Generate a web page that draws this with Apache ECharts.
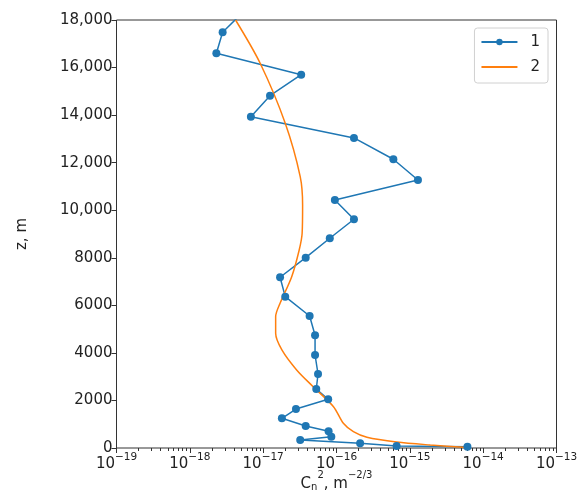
<!DOCTYPE html>
<html>
<head>
<meta charset="utf-8">
<script src="https://cdn.jsdelivr.net/npm/echarts@6/dist/echarts.min.js"></script>
<style>
  html, body { margin: 0; padding: 0; background: #fff; }
  #chart { width: 582px; height: 494px; }
</style>
</head>
<body>
<div id="chart"></div>
<script>
// series 1: measured profile (altitude, m / Cn2)
const z1 = [55, 84, 198, 336, 475, 702, 925, 1249, 1640, 2048, 2481, 3112, 3911, 4740, 5552,
  6364, 7180, 8004, 8820, 9619, 10431, 11272, 12143, 13039, 13935, 14818, 15701, 16601, 17484, 18400];
const c1 = [6.1e-15, 6.6e-16, 2.1e-16, 3.2e-17, 8.5e-17, 7.8e-17, 3.8e-17, 1.8e-17, 2.8e-17, 7.7e-17,
  5.3e-17, 5.6e-17, 5.1e-17, 5.1e-17, 4.3e-17, 2.0e-17, 1.7e-17, 3.8e-17, 8.1e-17, 1.73e-16,
  9.5e-17, 1.29e-15, 5.96e-16, 1.73e-16, 6.8e-18, 1.24e-17, 3.3e-17, 2.3e-18, 2.8e-18, 5.6e-18];
// series 2: model profile
const z2 = [0, 29, 126, 252, 450, 686, 1039, 1737, 2578, 3281, 4122, 4822, 5523, 6086, 7205,
  8328, 9030, 10220, 11411, 13657, 16180, 18000];
const c2 = [6.2e-15, 5.4e-15, 1.9e-15, 6.6e-16, 2.6e-16, 1.7e-16, 1.24e-16, 9.1e-17, 4.8e-17, 2.86e-17,
  1.8e-17, 1.48e-17, 1.48e-17, 1.7e-17, 2.45e-17, 3.1e-17, 3.4e-17, 3.45e-17, 3.2e-17, 2.0e-17, 9.1e-18, 4.2e-18];
const seriesNames = ['1', '2'];
// minor ticks 2..9 x 10^k, in log10 units
const minorTicks = [];
for (let k = -19; k < -13; k++) {
  for (let m = 2; m <= 9; m++) minorTicks.push(k + Math.log10(m));
}

const font = 'DejaVu Sans';
const textColor = '#222';

const chart = echarts.init(document.getElementById('chart'));
chart.setOption({
  animation: false,
  grid: {
    left: 116.5, right: 25.5, top: 20, bottom: 46,
    outerBoundsMode: 'none',
    containLabel: false,
    show: true, borderColor: '#333', borderWidth: 1, backgroundColor: 'transparent'
  },
  legend: {
    orient: 'vertical',
    right: 34, top: 28,
    data: [{ name: seriesNames[0] }, { name: seriesNames[1], itemStyle: { opacity: 0 } }],
    itemWidth: 36, itemHeight: 8, itemGap: 7,
    padding: [5, 8, 7, 6],
    borderColor: '#d0d0d0', borderWidth: 1, borderRadius: 3,
    backgroundColor: '#fff',
    textStyle: { fontFamily: font, fontSize: 15, color: textColor, padding: [0, 0, 0, 8], lineHeight: 18 }
  },
  xAxis: [{
    type: 'log',
    logBase: 10,
    min: 1e-19, max: 1e-13,
    name: '{c|C}{sub|n}{sup|2}{t|, m}{sup|−2/3}',
    nameLocation: 'middle',
    nameGap: 22,
    nameMoveOverlap: false,
    nameTextStyle: {
      rich: {
        c: { fontFamily: font, fontSize: 15, color: textColor, lineHeight: 22, verticalAlign: 'bottom' },
        t: { fontFamily: font, fontSize: 15, color: textColor, lineHeight: 22, verticalAlign: 'bottom' },
        sub: { fontFamily: font, fontSize: 10, color: textColor, lineHeight: 10, verticalAlign: 'bottom' },
        sup: { fontFamily: font, fontSize: 10, color: textColor, lineHeight: 12, verticalAlign: 'top' }
      }
    },
    axisLine: { show: false },
    axisTick: { show: true, inside: false, length: 5, lineStyle: { color: '#333' } },
    splitLine: { show: false },
    axisLabel: {
      margin: 4,
      formatter: function (v) {
        const e = Math.round(Math.log10(v));
        return '{b|10}{s|' + (e < 0 ? '−' + (-e) : e) + '}';
      },
      rich: {
        b: { fontFamily: font, fontSize: 15, color: textColor, lineHeight: 20, verticalAlign: 'bottom' },
        s: { fontFamily: font, fontSize: 10.5, color: textColor, lineHeight: 12, verticalAlign: 'top' }
      }
    }
  }, {
    type: 'value',
    min: -19, max: -13,
    position: 'bottom',
    axisLine: { show: false },
    axisLabel: { show: false },
    splitLine: { show: false },
    axisTick: { show: true, length: 3, customValues: minorTicks, lineStyle: { color: '#333' } }
  }],
  yAxis: {
    type: 'value',
    min: 0, max: 18000, interval: 2000,
    name: 'z, m',
    nameLocation: 'middle',
    nameGap: 87,
    nameMoveOverlap: false,
    nameTextStyle: { fontFamily: font, fontSize: 15, color: textColor },
    axisLine: { show: false },
    axisTick: { show: true, length: 5, lineStyle: { color: '#333' } },
    splitLine: { show: false },
    axisLabel: {
      margin: 4,
      fontFamily: font, fontSize: 15, color: textColor,
      formatter: function (v) {
        return v >= 10000 ? v.toLocaleString('en-US') : String(v);
      }
    }
  },
  series: [{
    name: seriesNames[0],
    type: 'line',
    xAxisIndex: 0,
    data: c1.map((c, i) => [c, z1[i]]),
    symbol: 'circle',
    symbolSize: 8,
    showAllSymbol: true,
    clip: true,
    itemStyle: { color: '#1f77b4' },
    lineStyle: { color: '#1f77b4', width: 1.5 }
  }, {
    name: seriesNames[1],
    type: 'line',
    xAxisIndex: 0,
    data: c2.map((c, i) => [c, z2[i]]),
    symbol: 'none',
    smooth: 0.3,
    clip: true,
    itemStyle: { color: '#ff7f0e' },
    lineStyle: { color: '#ff7f0e', width: 1.5 }
  }]
});
</script>
</body>
</html>
